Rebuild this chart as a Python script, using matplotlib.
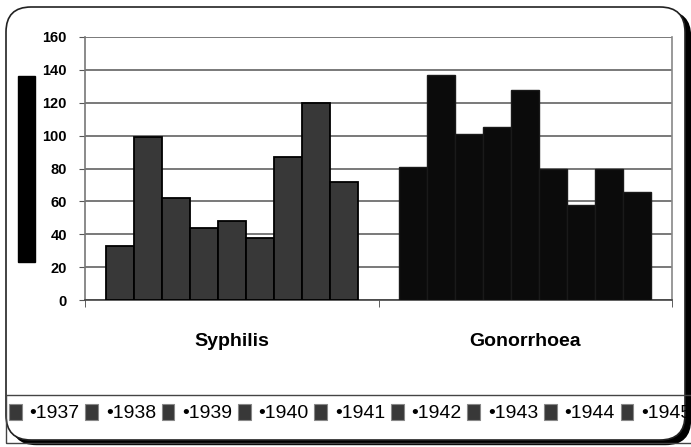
import numpy as np
import matplotlib
matplotlib.use("Agg")
from matplotlib import pyplot as plt
from matplotlib.patches import FancyBboxPatch, Rectangle, Patch

categories = ["Syphilis", "Gonorrhoea"]
years = ["1937", "1938", "1939", "1940", "1941", "1942", "1943", "1944", "1945"]
syphilis = [33, 99, 62, 44, 48, 38, 87, 120, 72]
gonorrhoea = [81, 137, 101, 105, 128, 80, 58, 80, 66]

plt.rcParams['font.family'] = ['Liberation Sans', 'DejaVu Sans']

W, H = 691, 447
fig = plt.figure(figsize=(W / 100, H / 100), dpi=100)

# helpers: pixel (from top-left) -> inches from bottom-left
def inch(x, y):
    return x / 100, (H - y) / 100

# outer rounded frame with black shadow
x0, y0 = inch(6, 440)
fw, fh = (685 - 6) / 100, (440 - 7) / 100
shadow = FancyBboxPatch((x0 + 0.055, y0 - 0.045), fw, fh,
                        boxstyle="round,pad=0,rounding_size=0.25",
                        transform=fig.dpi_scale_trans, fc="black", ec="black", zorder=0)
frame = FancyBboxPatch((x0, y0), fw, fh,
                       boxstyle="round,pad=0,rounding_size=0.25",
                       transform=fig.dpi_scale_trans, fc="white", ec="#222222", lw=1.2, zorder=1)
fig.add_artist(shadow)
fig.add_artist(frame)

# legend box
lx, ly = inch(6, 443)
fig.add_artist(Rectangle((lx, ly), 7.2, (443 - 395) / 100, transform=fig.dpi_scale_trans,
                         fc="none", ec="#444444", lw=1, zorder=2))

# y-axis title rendered as a black block
bx, by = inch(18, 262)
fig.add_artist(Rectangle((bx, by), 0.17, (262 - 76) / 100, transform=fig.dpi_scale_trans,
                         fc="black", ec="black", zorder=2))

ax = fig.add_axes([85 / W, 1 - 300 / H, (672 - 85) / W, (300 - 37) / H], zorder=3)
ax.set_facecolor("none")

n = len(years)
group_w = 0.86
bw = group_w / n
offsets = (np.arange(n) - (n - 1) / 2) * bw
ax.bar(0 + offsets, syphilis, width=bw, color="#383838", edgecolor="black", linewidth=1.3, zorder=3)
ax.bar(1 + offsets, gonorrhoea, width=bw, color="#0b0b0b", edgecolor="#1a1a1a", linewidth=1.0, zorder=3)

ax.set_xlim(-0.5, 1.5)
ax.set_ylim(0, 160)
ax.set_yticks(np.arange(0, 161, 20))
ax.yaxis.grid(True, color="#555555", linewidth=1.1)
ax.set_axisbelow(True)

ax.set_xticks([0, 1])
ax.set_xticklabels(categories, fontsize=14, fontweight="bold")
ax.set_xticks([-0.5, 0.5, 1.5], minor=True)
ax.tick_params(axis="x", which="major", length=0, pad=24)
ax.tick_params(axis="x", which="minor", length=5, color="#444444", direction="out")
ax.tick_params(axis="y", length=4, color="#555555", pad=9, labelsize=10.5)
for t in ax.get_yticklabels():
    t.set_fontweight("bold")

ax.spines["top"].set_visible(False)
ax.spines["left"].set_color("#777777")
ax.spines["right"].set_color("#888888")
ax.spines["bottom"].set_color("#444444")
for s in ["left", "right", "bottom"]:
    ax.spines[s].set_linewidth(1.2)

handles = [Patch(facecolor="#383838", edgecolor="#888888", linewidth=0.8) for _ in years]
labels = ["\u2022" + y for y in years]
leg = fig.legend(handles, labels, loc="center left", bbox_to_anchor=(9 / W, 1 - 413 / H),
                 ncol=n, frameon=False, fontsize=14, handlelength=0.65, handleheight=0.9,
                 handletextpad=0.4, columnspacing=0.3, borderaxespad=0, borderpad=0)
leg.set_zorder(4)

fig.savefig("out.png", dpi=100)
